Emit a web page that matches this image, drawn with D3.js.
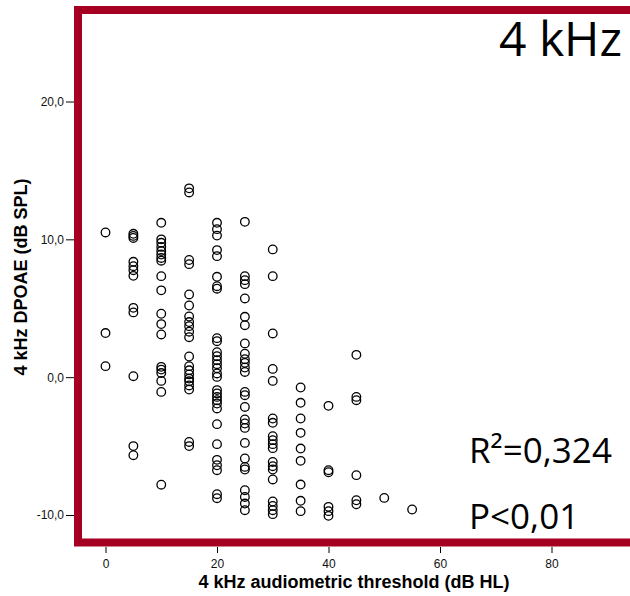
<!DOCTYPE html>
<html>
<head>
<meta charset="utf-8">
<script src="https://cdn.jsdelivr.net/npm/d3@7"></script>
<style>
  html, body { margin: 0; padding: 0; background: #fff; }
  svg { display: block; }
</style>
</head>
<body>
<svg id="chart" width="630" height="596"></svg>
<script>
// ---- data (audiometric threshold in dB HL -> DPOAE values in dB SPL) ----
const thresholds = [0, 5, 10, 15, 20, 25, 30, 35, 40, 45, 50, 55];
const dpoae0  = [10.5, 3.2, 0.8];
const dpoae5  = [10.4, 10.25, 10.1, 8.37, 8.05, 7.76, 7.35, 5.03, 4.7, 0.07, -5.0, -5.66];
const dpoae10 = [11.2, 10.0, 9.75, 9.45, 9.15, 8.9, 8.65, 8.45, 7.33, 6.3, 4.6, 3.85, 3.1, 0.75, 0.55, 0.3, -0.27, -1.07, -7.8];
const dpoae15 = [13.7, 13.4, 8.5, 8.2, 6.0, 5.2, 4.4, 4.0, 3.7, 3.3, 2.9, 1.5, 0.8, 0.5, 0.2, -0.1, -0.3, -0.6, -0.9, -4.7, -5.0];
const dpoae20 = [11.2, 10.74, 10.27, 9.22, 8.78, 7.28, 6.6, 6.42, 2.83, 2.61, 1.81, 1.52, 1.23, 0.94, 0.65, 0.27, 0.02,
                 -0.94, -1.18, -1.43, -1.67, -1.91, -2.27, -3.41, -4.86, -6.0, -6.39, -6.75, -8.49, -8.78];
const dpoae25 = [11.27, 7.33, 7.04, 6.75, 5.71, 4.38, 3.77, 2.45, 1.7, 1.3, 1.04, 0.7, 0.38, -1.07, -1.31, -2.16,
                 -3.07, -3.36, -3.68, -4.77, -5.9, -6.51, -6.7, -8.2, -8.69, -9.17, -9.65];
const dpoae30 = [9.27, 7.33, 3.17, 0.6, -0.27, -3.0, -3.31, -4.28, -4.57, -4.86, -5.15, -6.15, -6.46, -6.7, -7.42,
                 -9.02, -9.34, -9.65, -9.94];
const dpoae35 = [-0.75, -1.86, -3.0, -4.04, -5.18, -6.07, -7.79, -8.97, -9.72];
const dpoae40 = [-2.08, -6.75, -6.9, -9.41, -9.72, -10.06];
const dpoae45 = [1.62, -1.43, -1.67, -7.11, -8.93, -9.22];
const dpoae50 = [-8.76];
const dpoae55 = [-9.6];
const dpoaeByThreshold = [dpoae0, dpoae5, dpoae10, dpoae15, dpoae20, dpoae25, dpoae30, dpoae35, dpoae40, dpoae45, dpoae50, dpoae55];

const xTicks = [0, 20, 40, 60, 80];
const yTicks = [-10, 0, 10, 20];
const panelTitle = "4 kHz";
const xTitle = "4 kHz audiometric threshold (dB HL)";
const yTitle = "4 kHz DPOAE (dB SPL)";
const statR2 = "R\u00B2=0,324";
const statP = "P<0,01";

// ---- build ----
const points = [];
thresholds.forEach((t, i) => dpoaeByThreshold[i].forEach(v => points.push({ x: t, y: v })));

const svg = d3.select("#chart");
const x = d3.scaleLinear().domain([0, 80]).range([105.5, 551.5]);
const y = d3.scaleLinear().domain([-10, 20]).range([515, 101.5]);

const frameColor = "#A50021";
const frameLeft = 78, frameTop = 10, frameBottom = 542.5;

// frame (plot border)
svg.append("rect")
  .attr("x", frameLeft).attr("y", frameTop)
  .attr("width", 700).attr("height", frameBottom - frameTop)
  .attr("fill", "#fff")
  .attr("stroke", frameColor)
  .attr("stroke-width", 8);

const fmt = d => d.toFixed(1).replace(".", ",");

// y axis
const gy = svg.append("g")
  .attr("transform", `translate(74,0)`)
  .call(d3.axisLeft(y).tickValues(yTicks).tickSize(8).tickPadding(2).tickFormat(fmt));
gy.select(".domain").remove();
gy.selectAll("line").attr("stroke", "#000");
gy.selectAll("text").attr("font-family", "'Liberation Sans', Arial, sans-serif").attr("font-size", 12).attr("fill", "#111");

// x axis
const gx = svg.append("g")
  .attr("transform", `translate(0,547)`)
  .call(d3.axisBottom(x).tickValues(xTicks).tickSize(6).tickPadding(6).tickFormat(d3.format("d")));
gx.select(".domain").remove();
gx.selectAll("line").attr("stroke", "#000");
gx.selectAll("text").attr("font-family", "'Liberation Sans', Arial, sans-serif").attr("font-size", 12).attr("fill", "#111");

// axis titles
svg.append("text")
  .attr("x", 354).attr("y", 588)
  .attr("text-anchor", "middle")
  .attr("font-family", "'Liberation Sans', Arial, sans-serif")
  .attr("font-weight", "bold").attr("font-size", 18)
  .text(xTitle);

svg.append("text")
  .attr("transform", "translate(27,277) rotate(-90)")
  .attr("text-anchor", "middle")
  .attr("font-family", "'Liberation Sans', Arial, sans-serif")
  .attr("font-weight", "bold").attr("font-size", 18)
  .text(yTitle);

// points
svg.append("g")
  .selectAll("circle")
  .data(points)
  .join("circle")
  .attr("cx", d => x(d.x))
  .attr("cy", d => y(d.y))
  .attr("r", 4.3)
  .attr("fill", "none")
  .attr("stroke", "#000")
  .attr("stroke-width", 1.3);

// annotations
svg.append("text")
  .attr("x", 622).attr("y", 56)
  .attr("text-anchor", "end")
  .attr("font-family", "'Open Sans', 'Noto Sans', sans-serif")
  .attr("font-size", 48)
  .attr("fill", "#000")
  .text(panelTitle);

svg.append("text")
  .attr("x", 469).attr("y", 463)
  .attr("font-family", "'Open Sans', 'Noto Sans', sans-serif")
  .attr("font-size", 35)
  .attr("fill", "#000")
  .text(statR2);

svg.append("text")
  .attr("x", 469).attr("y", 529)
  .attr("font-family", "'Open Sans', 'Noto Sans', sans-serif")
  .attr("font-size", 35)
  .attr("fill", "#000")
  .text(statP);
</script>
</body>
</html>
